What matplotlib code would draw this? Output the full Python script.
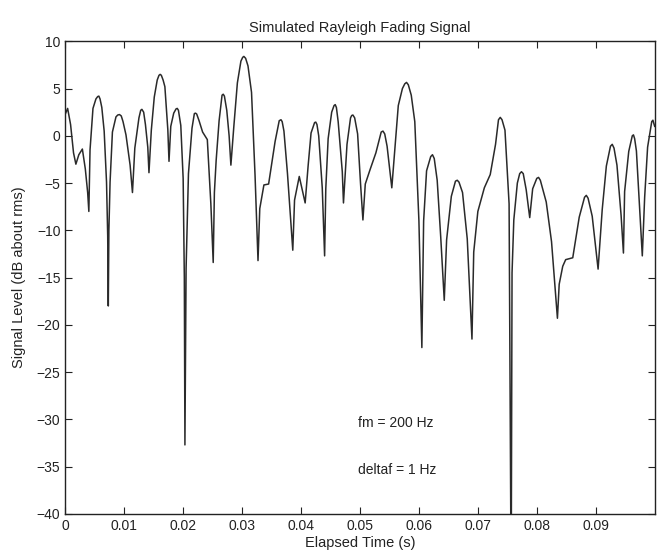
import matplotlib
matplotlib.use("Agg")
import matplotlib.pyplot as plt

# Elapsed time (s) and signal level (dB about rms)
time_s = [
    0.0000, 0.0004, 0.0009, 0.0014, 0.0018, 0.0023, 0.0029, 0.0034, 0.0038, 0.0040,
    0.0042, 0.0047, 0.0052, 0.0055, 0.0057, 0.0059, 0.0062, 0.0066, 0.0070, 0.0072,
    0.0073, 0.0074, 0.0076, 0.0080, 0.0086, 0.0089, 0.0092, 0.0095, 0.0098, 0.0103,
    0.0110, 0.0114, 0.0118, 0.0125, 0.0128, 0.0130, 0.0133, 0.0136, 0.0140, 0.0142,
    0.0146, 0.0151, 0.0156, 0.0159, 0.0161, 0.0163, 0.0166, 0.0169, 0.0174, 0.0176,
    0.0179, 0.0184, 0.0188, 0.0190, 0.0192, 0.0196, 0.0200, 0.0202, 0.0203, 0.0205,
    0.0209, 0.0215, 0.0219, 0.0221, 0.0223, 0.0227, 0.0233, 0.0241, 0.0247, 0.0251,
    0.0253, 0.0256, 0.0261, 0.0266, 0.0268, 0.0270, 0.0274, 0.0278, 0.0281, 0.0286,
    0.0292, 0.0298, 0.0301, 0.0303, 0.0306, 0.0310, 0.0316, 0.0322, 0.0327, 0.0330,
    0.0337, 0.0345, 0.0356, 0.0363, 0.0366, 0.0368, 0.0371, 0.0377, 0.0386, 0.0389,
    0.0397, 0.0407, 0.0412, 0.0417, 0.0423, 0.0425, 0.0427, 0.0430, 0.0436, 0.0440,
    0.0442, 0.0446, 0.0452, 0.0456, 0.0458, 0.0460, 0.0463, 0.0470, 0.0472, 0.0478,
    0.0484, 0.0486, 0.0488, 0.0491, 0.0496, 0.0501, 0.0505, 0.0509, 0.0517, 0.0527,
    0.0536, 0.0539, 0.0542, 0.0546, 0.0554, 0.0560, 0.0565, 0.0572, 0.0576, 0.0579,
    0.0582, 0.0587, 0.0593, 0.0600, 0.0605, 0.0608, 0.0613, 0.0620, 0.0623, 0.0626,
    0.0631, 0.0637, 0.0643, 0.0647, 0.0655, 0.0662, 0.0665, 0.0668, 0.0674, 0.0682,
    0.0690, 0.0693, 0.0700, 0.0711, 0.0721, 0.0730, 0.0735, 0.0738, 0.0741, 0.0746,
    0.0753, 0.07565, 0.0758, 0.0761, 0.0767, 0.0771, 0.0774, 0.0777, 0.0782, 0.0788,
    0.0793, 0.0800, 0.0803, 0.0806, 0.0816, 0.0825, 0.0835, 0.0838, 0.0844, 0.0849,
    0.0861, 0.0872, 0.0881, 0.0884, 0.0887, 0.0894, 0.0904, 0.0911, 0.0918, 0.0925,
    0.0928, 0.0931, 0.0936, 0.0943, 0.0947, 0.0949, 0.0956, 0.0962, 0.0964, 0.0966,
    0.0969, 0.0975, 0.0979, 0.0983, 0.0988, 0.0995, 0.0997, 0.1000,
]
level_db = [
    2.3, 2.9, 1.2, -1.8, -3.0, -2.0, -1.4, -3.5, -6.0, -8.0,
    -1.5, 2.9, 3.9, 4.15, 4.2, 3.9, 3.0, 0.5, -4.9, -10.6,
    -18.0, -10.0, -4.9, 0.4, 2.0, 2.2, 2.25, 2.1, 1.5, 0.1,
    -3.1, -6.0, -1.3, 1.9, 2.7, 2.8, 2.5, 1.2, -1.2, -3.9,
    0.6, 4.1, 5.9, 6.4, 6.5, 6.4, 5.9, 5.2, 0.65, -2.7,
    1.0, 2.4, 2.85, 2.9, 2.7, 1.1, -4.5, -15.0, -32.7, -14.0,
    -4.0, 0.8, 2.35, 2.4, 2.3, 1.6, 0.4, -0.4, -7.2, -13.4,
    -6.0, -2.6, 1.6, 4.3, 4.4, 4.2, 2.7, 0.0, -3.1, 1.0,
    5.6, 7.9, 8.3, 8.4, 8.2, 7.4, 4.6, -4.2, -13.2, -7.7,
    -5.2, -5.1, -0.6, 1.6, 1.7, 1.5, 0.5, -4.0, -12.1, -6.8,
    -4.3, -7.1, -3.2, 0.3, 1.4, 1.45, 1.2, 0.0, -5.5, -12.7,
    -5.6, -0.3, 2.5, 3.2, 3.3, 3.0, 1.5, -3.8, -7.1, -0.9,
    1.9, 2.15, 2.2, 1.9, 0.2, -5.1, -8.9, -5.1, -3.6, -1.8,
    0.4, 0.5, 0.2, -1.1, -5.5, -0.7, 3.2, 5.0, 5.5, 5.65,
    5.4, 4.3, 1.5, -9.0, -22.4, -9.0, -3.7, -2.2, -2.0, -2.4,
    -4.7, -10.7, -17.4, -11.0, -6.4, -4.8, -4.7, -4.9, -6.0, -10.9,
    -21.5, -12.3, -8.0, -5.5, -4.1, -0.9, 1.7, 1.95, 1.7, 0.6,
    -7.2, -48.0, -14.5, -8.9, -5.0, -4.0, -3.8, -4.0, -5.7, -8.65,
    -5.6, -4.5, -4.4, -4.7, -7.0, -11.2, -19.3, -15.7, -13.8, -13.1,
    -12.9, -8.6, -6.5, -6.3, -6.6, -8.5, -14.1, -7.8, -3.2, -1.1,
    -0.9, -1.3, -3.1, -8.4, -12.4, -5.9, -1.65, 0.0, 0.1, -0.3,
    -1.6, -8.3, -12.7, -6.5, -1.2, 1.5, 1.65, 1.0,
]

x_ticks = [0, 0.01, 0.02, 0.03, 0.04, 0.05, 0.06, 0.07, 0.08, 0.09]
x_tick_labels = ["0", "0.01", "0.02", "0.03", "0.04", "0.05", "0.06", "0.07", "0.08", "0.09"]
y_ticks = [-40, -35, -30, -25, -20, -15, -10, -5, 0, 5, 10]

title = "Simulated Rayleigh Fading Signal"
x_label = "Elapsed Time (s)"
y_label = "Signal Level (dB about rms)"
notes = ["fm = 200 Hz", "deltaf = 1 Hz"]
note_pos = [(0.0497, -30.4), (0.0497, -35.4)]

plt.rcParams["font.family"] = ["Liberation Sans", "DejaVu Sans"]

fig = plt.figure(figsize=(6.66, 5.58), dpi=100)
ax = fig.add_axes([0.098, 0.079, 0.885, 0.847])

ax.plot(time_s, level_db, color="#2a2a2a", lw=1.1)

ax.set_xlim(0, 0.1)
ax.set_ylim(-40, 10)
ax.set_xticks(x_ticks)
ax.set_xticklabels(x_tick_labels)
ax.set_yticks(y_ticks)
ax.tick_params(direction="in", top=True, right=True, length=5, width=0.8,
               labelsize=10, colors="#222222")
for s in ax.spines.values():
    s.set_linewidth(1.0)
    s.set_color("#222222")

ax.set_title(title, fontsize=10.5, color="#222222", pad=7)
ax.set_xlabel(x_label, fontsize=10.5, color="#222222", labelpad=2)
ax.set_ylabel(y_label, fontsize=10.5, color="#222222", labelpad=8)

for txt, (tx, ty) in zip(notes, note_pos):
    ax.text(tx, ty, txt, fontsize=10, color="#222222", ha="left", va="center")

fig.savefig("out.png", dpi=100)
